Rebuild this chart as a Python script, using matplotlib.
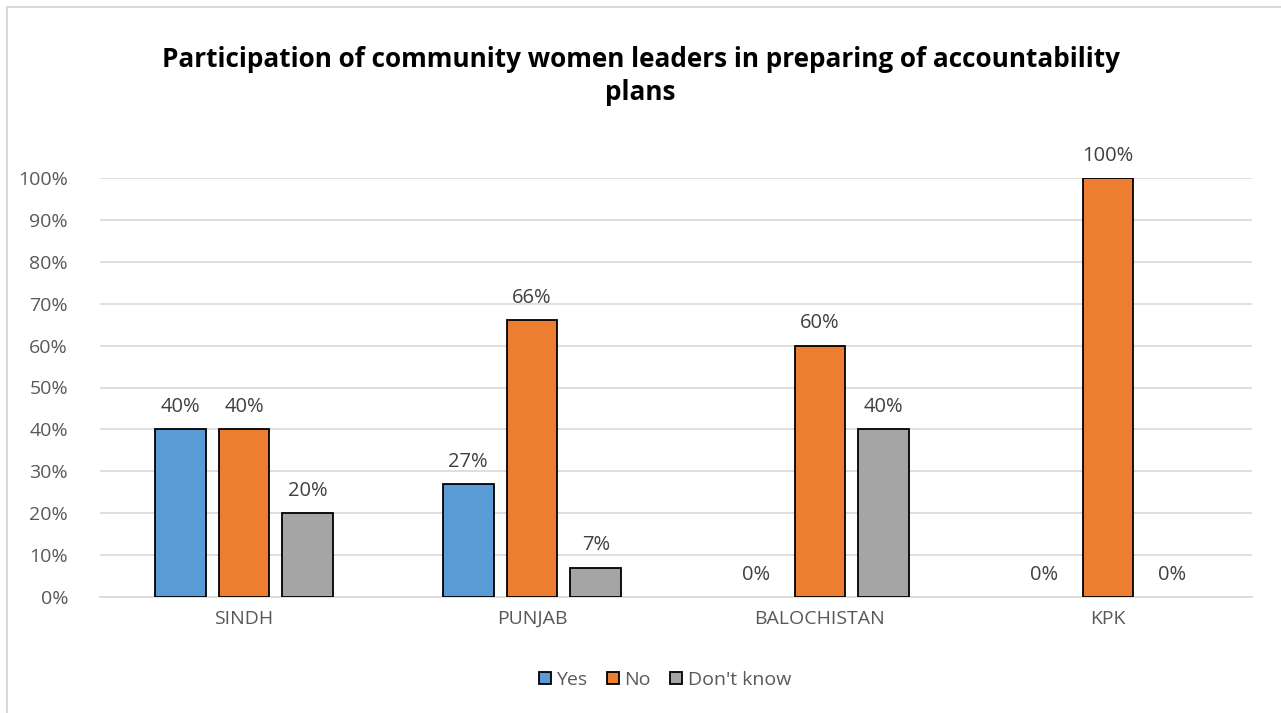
import matplotlib
matplotlib.use('Agg')
import matplotlib.pyplot as plt
from matplotlib.lines import Line2D
import numpy as np

TITLE = "Participation of community women leaders in preparing of accountability\nplans"
REGIONS = ["SINDH", "PUNJAB", "BALOCHISTAN", "KPK"]
SERIES = ["Yes", "No", "Don't know"]
YES = [40, 27, 0, 0]
NO = [40, 66, 60, 100]
DONT_KNOW = [20, 7, 40, 0]
Y_TICKS = [0, 10, 20, 30, 40, 50, 60, 70, 80, 90, 100]

COLORS = ["#5B9BD5", "#ED7D31", "#A5A5A5"]
TEXT_GRAY = "#595959"

plt.rcParams['font.family'] = ['Open Sans', 'DejaVu Sans']


def main():
    fig = plt.figure(figsize=(12.81, 7.13), dpi=100)
    W, H = 1281, 713
    # plot area in pixels: x 100..1252, y 178..597
    ax = fig.add_axes([100 / W, 1 - 597 / H, 1152 / W, 419 / H])

    x = np.arange(len(REGIONS))
    width = 0.177
    step = 0.222
    values = [YES, NO, DONT_KNOW]

    for i, (name, vals, color) in enumerate(zip(SERIES, values, COLORS)):
        pos = x + (i - 1) * step
        lws = [1.3 if v > 0 else 0 for v in vals]
        bars = ax.bar(pos, vals, width, color=color, edgecolor="black",
                      linewidth=lws, label=name, zorder=3)
        for b, v in zip(bars, vals):
            ax.annotate(f"{v}%", (b.get_x() + b.get_width() / 2, v),
                        xytext=(0, 16), textcoords="offset points",
                        ha="center", va="center", fontsize=14.5, color="#404040")

    ax.set_xlim(-0.5, len(REGIONS) - 0.5)
    ax.set_ylim(0, 100)
    ax.set_yticks(Y_TICKS)
    ax.set_yticklabels([f"{t}%" for t in Y_TICKS], fontsize=14, color=TEXT_GRAY)
    ax.set_xticks(x)
    ax.set_xticklabels(REGIONS, fontsize=14, color=TEXT_GRAY)
    ax.tick_params(axis="both", length=0)
    ax.tick_params(axis="y", pad=23)
    ax.tick_params(axis="x", pad=9)
    ax.grid(axis="y", color="#D9D9D9", linewidth=1.2, zorder=0)
    for side in ["top", "right", "left"]:
        ax.spines[side].set_visible(False)
    ax.spines["bottom"].set_color("#D9D9D9")
    ax.spines["bottom"].set_linewidth(1.2)

    fig.text(0.5, 1 - 76 / H, TITLE, ha="center", va="center", fontsize=18.8,
             fontweight="bold", color="black", linespacing=1.3)

    handles = [Line2D([0], [0], marker="s", linestyle="none", markersize=8.5,
                      markerfacecolor=c, markeredgecolor="black", markeredgewidth=1.3)
               for c in COLORS]
    fig.legend(handles, SERIES, loc="center", bbox_to_anchor=(664 / W, 1 - 680 / H),
               ncol=3, frameon=False, fontsize=14, handlelength=0.8,
               handletextpad=0.2, columnspacing=0.9, labelcolor=TEXT_GRAY)

    # chart frame (top and left edges visible)
    fig.add_artist(Line2D([7 / W, 7 / W], [0, 1 - 7 / H], transform=fig.transFigure,
                          color="#D9D9D9", linewidth=1.5))
    fig.add_artist(Line2D([7 / W, 1], [1 - 7 / H, 1 - 7 / H], transform=fig.transFigure,
                          color="#D9D9D9", linewidth=1.5))

    fig.savefig("out.png", dpi=100)
    plt.close(fig)


if __name__ == "__main__":
    main()
